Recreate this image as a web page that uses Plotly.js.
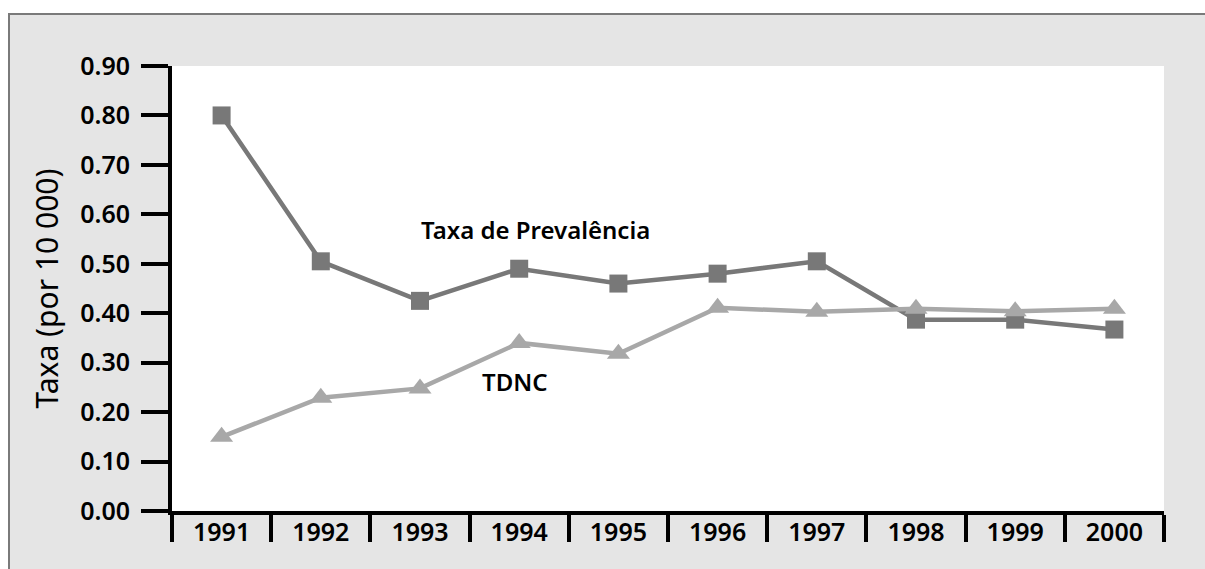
<!DOCTYPE html>
<html>
<head>
<meta charset="utf-8">
<script src="https://cdn.plot.ly/plotly-3.0.1.min.js"></script>
<style>
  body { margin: 0; background: #ffffff; overflow: hidden; }
  #moldura {
    position: absolute; left: 8px; top: 13px;
    width: 1197px; height: 556px; box-sizing: border-box;
    border-top: 2px solid #7a7a7a; border-left: 2px solid #7a7a7a;
  }
  #grafico { width: 1195px; height: 554px; }
</style>
</head>
<body>
<div id="moldura"><div id="grafico"></div></div>
<script>
// Anos e taxas (por 10 000)
const anos = ['1991', '1992', '1993', '1994', '1995', '1996', '1997', '1998', '1999', '2000'];
const taxaPrevalencia = [0.80, 0.505, 0.425, 0.49, 0.46, 0.48, 0.505, 0.387, 0.387, 0.367];
const taxaTDNC = [0.15, 0.229, 0.248, 0.34, 0.318, 0.411, 0.403, 0.409, 0.404, 0.409];
const ticksY = [0, 0.1, 0.2, 0.3, 0.4, 0.5, 0.6, 0.7, 0.8, 0.9];

const fonte = 'Noto Sans, DejaVu Sans, sans-serif';

const dados = [
    {
        x: anos,
        y: taxaPrevalencia,
        name: 'Taxa de Prevalência',
        type: 'scatter',
        mode: 'lines+markers',
        line: { color: '#787878', width: 4.5 },
        marker: { symbol: 'square', size: 18, color: '#787878' }
    },
    {
        x: anos,
        y: taxaTDNC,
        name: 'TDNC',
        type: 'scatter',
        mode: 'lines+markers',
        line: { color: '#a8a8a8', width: 4.5 },
        marker: { symbol: 'triangle-up', size: 20, color: '#a8a8a8' }
    }
];

const layout = {
    width: 1195,
    height: 554,
    margin: { l: 162, r: 41, t: 51, b: 58 },
    paper_bgcolor: '#e5e5e5',
    plot_bgcolor: '#ffffff',
    showlegend: false,
    font: { family: fonte, color: '#000000' },
    xaxis: {
        type: 'category',
        range: [-0.5, 9.5],
        showgrid: false,
        zeroline: false,
        showline: true,
        linecolor: '#000000',
        linewidth: 4,
        ticks: 'outside',
        tickson: 'boundaries',
        ticklen: 27,
        tickwidth: 4,
        tickcolor: '#000000',
        ticklabelstandoff: -4,
        tickfont: { family: fonte, size: 25, weight: 600 }
    },
    yaxis: {
        range: [0, 0.9],
        tickvals: ticksY,
        tickformat: '.2f',
        showgrid: false,
        zeroline: false,
        showline: true,
        linecolor: '#000000',
        linewidth: 4,
        ticks: 'outside',
        ticklen: 27,
        tickwidth: 4,
        tickcolor: '#000000',
        ticklabelstandoff: 6,
        automargin: true,
        tickfont: { family: fonte, size: 25, weight: 600 },
        title: { text: 'Taxa (por 10 000)', standoff: 14, font: { family: fonte, size: 30 } }
    },
    annotations: [
        {
            x: 3.16, y: 0.57, xref: 'x', yref: 'y',
            text: 'Taxa de Prevalência', showarrow: false,
            font: { family: fonte, size: 24, weight: 600 }
        },
        {
            x: 2.96, y: 0.262, xref: 'x', yref: 'y',
            text: 'TDNC', showarrow: false,
            font: { family: fonte, size: 24, weight: 600 }
        }
    ]
};

Plotly.newPlot('grafico', dados, layout, { displayModeBar: false, staticPlot: true });
</script>
</body>
</html>
